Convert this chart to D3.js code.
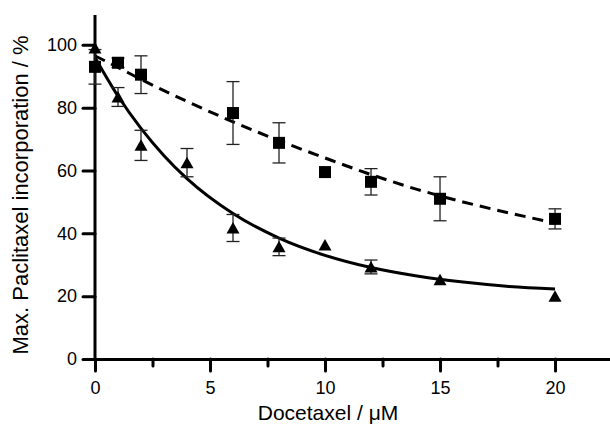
<!DOCTYPE html>
<html>
<head>
<meta charset="utf-8">
<script src="https://cdn.jsdelivr.net/npm/d3@7"></script>
<style>
  body { margin: 0; background: #fff; }
  text { font-family: "Liberation Sans", Arial, sans-serif; fill: #000; }
</style>
</head>
<body>
<div id="chart"></div>
<script>
// Constants
const width = 610
const height = 431
const margin = { top: 15, right: 0, bottom: 72, left: 95 }

// Data
const squareX = [0, 1, 2, 6, 8, 10, 12, 15, 20]
const squareY = [93, 94.3, 90.5, 78.3, 68.8, 59.5, 56.4, 51, 44.6]
const squareErr = [5.5, 1.5, 6, 10, 6.4, 0, 4.2, 7, 3.2]

const triangleX = [0, 1, 2, 4, 6, 8, 10, 12, 15, 20]
const triangleY = [99, 83.4, 68, 62.5, 41.7, 35.7, 36.3, 29.3, 25.2, 20]
const triangleErr = [0, 3, 4.8, 4.5, 4.3, 2.8, 0, 2.2, 0, 0]

// fitted curves
const fitX = [0, 1, 2, 3, 4, 6, 8, 10, 12, 14, 16, 18, 20]
const fitSolid = [96, 83.7, 73.4, 64.7, 57.4, 46.3, 38.5, 33, 29.1, 26.4, 24.5, 23.1, 22.3]
const fitDashed = [96.5, 92.8, 89, 85.4, 82, 75.5, 69.5, 64, 58.7, 54, 50, 46.5, 43.3]

const xMajorTicks = [0, 5, 10, 15, 20]
const xMinorTicks = [2.5, 7.5, 12.5, 17.5]
const yTicks = [0, 20, 40, 60, 80, 100]

const svg = d3.select("#chart")
    .append("svg")
    .attr("width", width)
    .attr("height", height)

// Scales
const x = d3.scaleLinear()
    .domain([0, 22.39])
    .range([margin.left, width - margin.right])

const y = d3.scaleLinear()
    .domain([0, 109.5])
    .range([height - margin.bottom, margin.top])

// Axes
const xAxisGroup = svg.append("g")
    .attr("transform", `translate(0, ${y(0)})`)
xAxisGroup.call(d3.axisBottom(x).tickValues(xMajorTicks).tickSize(12).tickPadding(10).tickSizeOuter(0))
xAxisGroup.append("g")
    .call(d3.axisBottom(x).tickValues(xMinorTicks).tickSize(7).tickFormat("").tickSizeOuter(0))
    .select(".domain").remove()

const yAxisGroup = svg.append("g")
    .attr("transform", `translate(${x(0)}, 0)`)
yAxisGroup.call(d3.axisLeft(y).tickValues(yTicks).tickSize(12).tickPadding(6).tickSizeOuter(0))
yAxisGroup.select(".domain").attr("d", `M0,${y(0)}V${margin.top}`)

svg.selectAll(".domain")
    .attr("stroke", "#000")
    .attr("stroke-width", 3)
svg.selectAll(".tick line")
    .attr("stroke", "#000")
    .attr("stroke-width", 3)
    .attr("stroke-linecap", "round")
svg.selectAll(".tick text")
    .style("font-size", "18px")
    .style("font-family", '"Liberation Sans", Arial, sans-serif')
    .attr("fill", "#000")

// Axis titles
svg.append("text")
    .attr("x", 328)
    .attr("y", 420)
    .attr("text-anchor", "middle")
    .style("font-size", "21px")
    .text("Docetaxel / μM")

svg.append("text")
    .attr("transform", `translate(28, 195) rotate(-90)`)
    .attr("text-anchor", "middle")
    .style("font-size", "22px")
    .text("Max. Paclitaxel incorporation / %")

// Fit curves
const line = (ys) => d3.line()
    .x((d, i) => x(fitX[i]))
    .y(d => y(d))
    .curve(d3.curveMonotoneX)(ys)

svg.append("path")
    .attr("d", line(fitDashed))
    .attr("fill", "none")
    .attr("stroke", "#000")
    .attr("stroke-width", 3)
    .attr("stroke-dasharray", "11,7")

svg.append("path")
    .attr("d", line(fitSolid))
    .attr("fill", "none")
    .attr("stroke", "#000")
    .attr("stroke-width", 3)

// Error bars
const errorBars = (xs, ys, errs) => {
    const g = svg.append("g")
        .attr("stroke", "#222")
        .attr("stroke-width", 1.3)
    xs.forEach((xv, i) => {
        if (!errs[i]) return
        const cx = x(xv)
        const top = y(ys[i] + errs[i])
        const bottom = y(ys[i] - errs[i])
        g.append("line").attr("x1", cx).attr("x2", cx).attr("y1", top).attr("y2", bottom)
        g.append("line").attr("x1", cx - 6.5).attr("x2", cx + 6.5).attr("y1", top).attr("y2", top)
        g.append("line").attr("x1", cx - 6.5).attr("x2", cx + 6.5).attr("y1", bottom).attr("y2", bottom)
    })
}
errorBars(triangleX, triangleY, triangleErr)
errorBars(squareX, squareY, squareErr)

// Markers
svg.append("g").selectAll("path")
    .data(triangleX)
    .join("path")
    .attr("d", (d, i) => {
        const cx = x(d), cy = y(triangleY[i])
        return `M${cx},${cy - 6}L${cx + 6.5},${cy + 5.5}L${cx - 6.5},${cy + 5.5}Z`
    })
    .attr("fill", "#000")

svg.append("g").selectAll("rect")
    .data(squareX)
    .join("rect")
    .attr("x", d => x(d) - 6)
    .attr("y", (d, i) => y(squareY[i]) - 6)
    .attr("width", 12)
    .attr("height", 12)
    .attr("fill", "#000")
</script>
</body>
</html>
